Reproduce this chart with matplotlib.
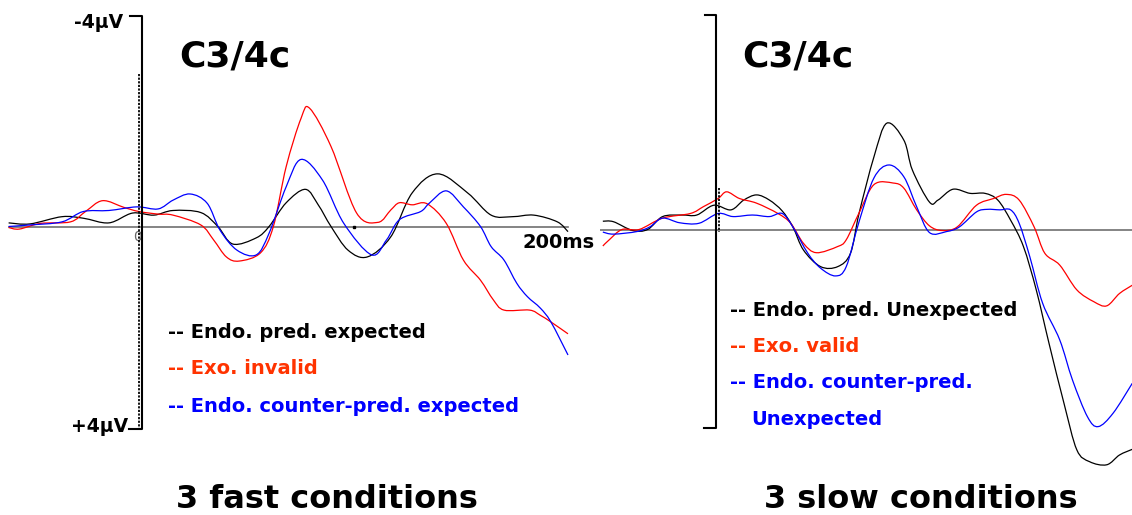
import numpy as np
import matplotlib
matplotlib.use("Agg")
import matplotlib.pyplot as plt
from matplotlib.path import Path
from matplotlib.patches import PathPatch

plt.rcParams['font.family'] = ['DejaVu Sans']

# ---- data: time (ms) and amplitude (uV, negative up) ----
# fast conditions
fast_black_t = [-62, -52, -37, -27, -15, -4, 6, 15, 28, 36, 43, 54, 60, 68, 77, 83, 89, 97,
                106, 117, 127, 139, 153, 164, 174, 184, 195, 200]
fast_black_v = [-0.08, -0.06, -0.20, -0.17, -0.08, -0.27, -0.23, -0.32, -0.28, -0.01, 0.33, 0.21,
                -0.01, -0.47, -0.73, -0.43, -0.01, 0.45, 0.58, 0.19, -0.66, -1.03, -0.66, -0.23,
                -0.20, -0.23, -0.10, 0.09]

fast_red_t = [-62, -57, -47, -33, -26, -18, -8, -1, 8, 15, 28, 34, 40, 46, 56, 62, 68, 75, 79,
              89, 101, 111, 117, 121, 127, 134, 143, 151, 159, 165, 170, 182, 187, 192, 200]
fast_red_v = [0.01, 0.04, -0.07, -0.10, -0.30, -0.51, -0.38, -0.30, -0.25, -0.23, -0.04, 0.25,
              0.58, 0.66, 0.50, -0.01, -1.17, -2.11, -2.30, -1.56, -0.27, -0.09, -0.33,
              -0.47, -0.43, -0.45, -0.07, 0.64, 1.03, 1.41, 1.61, 1.61, 1.71, 1.84, 2.07]

fast_blue_t = [-62, -52, -37, -27, -15, -2, 8, 15, 23, 31, 37, 45, 54, 60, 68, 75, 85, 95,
               108, 115, 121, 131, 135, 143, 151, 159, 164, 170, 176, 181, 187, 192, 200]
fast_blue_v = [-0.01, -0.04, -0.10, -0.30, -0.32, -0.39, -0.35, -0.52, -0.64, -0.46, 0.06, 0.45,
               0.54, 0.12, -0.78, -1.31, -0.91, -0.07, 0.54, 0.25, -0.14, -0.30, -0.46,
               -0.70, -0.39, -0.01, 0.38, 0.64, 1.09, 1.35, 1.57, 1.84, 2.48]

# slow conditions
slow_black_t = [-53, -48, -39, -32, -25, -16, -9, -1, 7, 13, 19, 25, 31, 36, 41, 49, 57, 63, 67,
                74, 80, 88, 92, 100, 104, 111, 119, 126, 132, 138, 144, 150, 156, 163, 169, 175,
                183, 189, 195]
slow_black_v = [-0.17, -0.16, 0.01, -0.01, -0.26, -0.29, -0.29, -0.48, -0.39, -0.58, -0.68, -0.58,
                -0.37, -0.06, 0.39, 0.71, 0.71, 0.45, -0.32, -1.42, -2.07, -1.74, -1.16, -0.54,
                -0.58, -0.79, -0.71, -0.71, -0.58, -0.19, 0.32, 1.16, 2.20, 3.36, 4.26, 4.49,
                4.55, 4.36, 4.25]

slow_red_t = [-53, -50, -44, -36, -25, -12, -6, 1, 5, 11, 19, 29, 35, 41, 47, 57, 61, 67, 74,
              83, 88, 94, 100, 106, 113, 122, 130, 136, 142, 149, 154, 161, 169, 177, 183, 189, 195]
slow_red_v = [0.31, 0.19, -0.01, -0.01, -0.23, -0.32, -0.45, -0.61, -0.74, -0.61, -0.52, -0.32,
              -0.13, 0.26, 0.44, 0.32, 0.19, -0.33, -0.88, -0.91, -0.81, -0.39, -0.08,
              0.01, -0.06, -0.48, -0.61, -0.69, -0.58, -0.06, 0.45, 0.68, 1.16, 1.39, 1.47,
              1.23, 1.07]

slow_blue_t = [-53, -48, -37, -31, -25, -17, -8, 1, 8, 17, 25, 31, 36, 43, 49, 56, 61, 67, 74, 81,
               88, 94, 100, 108, 114, 122, 127, 133, 138, 142, 147, 153, 161, 167, 174, 179, 186, 195]
slow_blue_v = [0.04, 0.08, 0.03, -0.06, -0.23, -0.14, -0.13, -0.32, -0.26, -0.29, -0.26, -0.32,
               -0.06, 0.45, 0.74, 0.89, 0.71, -0.16, -1.01, -1.26, -1.03, -0.45, 0.05, 0.03,
               -0.06, -0.35, -0.40, -0.39, -0.39, -0.13, 0.52, 1.42, 2.13, 2.91, 3.62, 3.81,
               3.55, 2.97]

fast_labels = ["-- Endo. pred. expected", "-- Exo. invalid", "-- Endo. counter-pred. expected"]
slow_labels = ["-- Endo. pred. Unexpected", "-- Exo. valid", "-- Endo. counter-pred.", "Unexpected"]
label_colors = ["#000000", "#ff3300", "#0000ff", "#0000ff"]
line_colors = ["#000000", "#ff0000", "#0000ff"]

W, H = 1132, 515
fig = plt.figure(figsize=(W / 100, H / 100), dpi=100)


def px(x, y):
    return x / W, 1 - y / H


def smooth_line(ax, t, v, color):
    # catmull-rom through the read points, drawn as bezier path
    p = np.column_stack([t, v]).astype(float)
    ext = np.vstack([p[0], p, p[-1]])
    verts = [p[0]]
    codes = [Path.MOVETO]
    for i in range(1, len(ext) - 2):
        c1 = ext[i] + (ext[i + 1] - ext[i - 1]) / 6
        c2 = ext[i + 1] - (ext[i + 2] - ext[i]) / 6
        verts += [c1, c2, ext[i + 1]]
        codes += [Path.CURVE4] * 3
    ax.add_patch(PathPatch(Path(verts, codes), fill=False, edgecolor=color,
                           lw=0.9, zorder=3))


# left panel: 0 ms at x=141px, 2.135 px/ms ; 0 uV at y=227px, 51.6 px/uV
ax1 = fig.add_axes([0, 0, 600 / W, 1])
ax1.set_xlim(-66.04, 214.99)
ax1.set_ylim(5.581, -4.399)

ax2 = fig.add_axes([600 / W, 0, 532 / W, 1])
ax2.set_xlim(-54.33, 194.85)
ax2.set_ylim(5.523, -4.457)

for ax in (ax1, ax2):
    ax.axis('off')
    ax.patch.set_alpha(0)

# baselines
ax1.plot([-62, 200], [0, 0], color="#707070", lw=1.2, zorder=1)
ax1.plot([100], [0], marker="s", ms=1.5, color="k", zorder=2)
ax2.plot([-54.3, 194.9], [0, 0], color="#707070", lw=1.2, zorder=1)

# curves
for t, v, c in zip([fast_black_t, fast_red_t, fast_blue_t],
                   [fast_black_v, fast_red_v, fast_blue_v], line_colors):
    smooth_line(ax1, t, v, c)
for t, v, c in zip([slow_black_t, slow_red_t, slow_blue_t],
                   [slow_black_v, slow_red_v, slow_blue_v], line_colors):
    smooth_line(ax2, t, v, c)

# amplitude brackets
ax1.plot([-5.0, 0.3, 0.3, -5.5], [-4.09, -4.09, 3.91, 3.91], color="k", lw=1.5, zorder=4)
ax1.plot([-1.0, -1.0], [-2.97, 3.91], color="k", lw=1.3, ls=(0, (1.2, 0.8)), zorder=4)
ax2.plot([-5.2, 0.0, 0.0, -5.6], [-4.16, -4.16, 3.83, 3.83], color="k", lw=1.5, zorder=4)
ax2.plot([1.4, 1.4], [-0.81, 0.04], color="k", lw=1.3, ls=(0, (1.2, 0.8)), zorder=4)

# axis texts
ax1.text(-1.8, 0.05, "0", color="#666666", fontsize=10, ha="center", va="top", zorder=2)
fig.text(*px(123, 23), "-4\u03bcV", fontsize=13.5, fontweight="bold", ha="right", va="center")
fig.text(*px(128, 427), "+4\u03bcV", fontsize=13.5, fontweight="bold", ha="right", va="center")
fig.text(*px(523, 242), "200ms", fontsize=14, fontweight="bold", ha="left", va="center")

# titles
fig.text(*px(179, 57), "C3/4c", fontsize=26, fontweight="bold", ha="left", va="center")
fig.text(*px(742, 57), "C3/4c", fontsize=26, fontweight="bold", ha="left", va="center")
fig.text(*px(327, 500), "3 fast conditions", fontsize=23, fontweight="bold", ha="center", va="center")
fig.text(*px(921, 500), "3 slow conditions", fontsize=23, fontweight="bold", ha="center", va="center")

# legends
for i, lab in enumerate(fast_labels):
    fig.text(*px(168, 332 + 37 * i), lab, color=label_colors[i], fontsize=14,
             fontweight="bold", ha="left", va="center")
for i, lab in enumerate(slow_labels):
    x0 = 751 if i == 3 else 730
    fig.text(*px(x0, 310 + 36.5 * i), lab, color=label_colors[i], fontsize=14,
             fontweight="bold", ha="left", va="center")

fig.savefig("out.png", dpi=100)
